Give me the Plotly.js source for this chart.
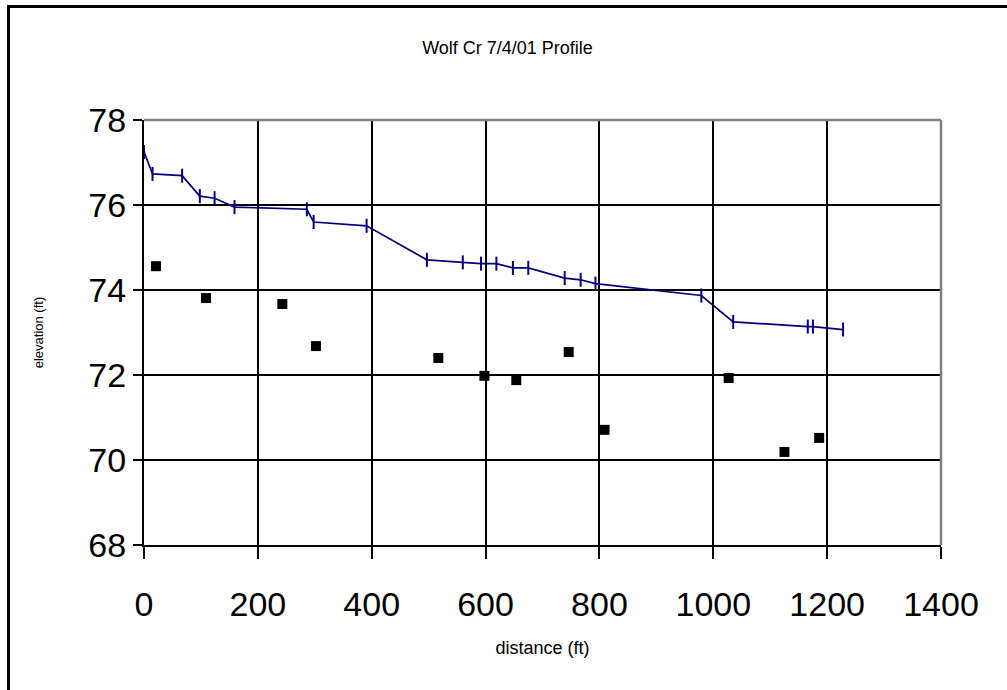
<!DOCTYPE html>
<html>
<head>
<meta charset="utf-8">
<script src="https://cdn.plot.ly/plotly-3.0.1.min.js"></script>
<style>
  html, body { margin: 0; padding: 0; background: #fff; }
  #wrap { position: relative; width: 1007px; height: 690px; overflow: hidden; }
  #chart { position: absolute; left: 0; top: 0; width: 1007px; height: 690px; }
  #frame { position: absolute; left: 7px; top: 5px; width: 1100px; height: 800px;
           border-left: 3px solid #000; border-top: 3px solid #000; pointer-events: none; }
</style>
</head>
<body>
<div id="wrap">
  <div id="chart"></div>
  <div id="frame"></div>
</div>
<script>
// Water surface profile (line with tick markers)
const surfaceDistance = [0, 15, 67, 98, 124, 159, 286, 298, 391, 497, 560, 592, 619, 648, 675, 739, 767, 793, 979, 1035, 1166, 1175, 1228];
const surfaceElevation = [77.25, 76.73, 76.69, 76.21, 76.16, 75.95, 75.90, 75.60, 75.51, 74.71, 74.65, 74.62, 74.62, 74.52, 74.52, 74.28, 74.24, 74.15, 73.87, 73.25, 73.14, 73.14, 73.07];

// Bed points (black squares)
const bedDistance = [21, 109, 243, 302, 517, 598, 654, 746, 809, 1027, 1125, 1186];
const bedElevation = [74.56, 73.81, 73.67, 72.68, 72.40, 71.98, 71.88, 72.54, 70.71, 71.93, 70.19, 70.52];

const xTicks = [0, 200, 400, 600, 800, 1000, 1200, 1400];
const yTicks = [68, 70, 72, 74, 76, 78];

const FONT = "Liberation Sans, Arial, sans-serif";

const traces = [
  {
    x: surfaceDistance, y: surfaceElevation, type: 'scatter', mode: 'lines+markers',
    line: { color: '#000080', width: 1.7 },
    marker: { symbol: 'line-ns', size: 10, line: { color: '#000080', width: 2 } },
    cliponaxis: true, showlegend: false, hoverinfo: 'x+y'
  },
  {
    x: bedDistance, y: bedElevation, type: 'scatter', mode: 'markers',
    marker: { symbol: 'square', size: 10, color: '#000000' },
    showlegend: false, hoverinfo: 'x+y'
  }
];

const layout = {
  width: 1007, height: 690,
  paper_bgcolor: '#ffffff', plot_bgcolor: '#ffffff',
  margin: { l: 144, r: 66, t: 120, b: 145 },
  font: { family: FONT, color: '#000' },
  showlegend: false,
  title: {
    text: 'Wolf Cr 7/4/01 Profile',
    font: { family: FONT, size: 18, color: '#000' },
    xref: 'container', yref: 'container', x: 0.504, y: 1 - 48/690,
    xanchor: 'center', yanchor: 'middle'
  },
  xaxis: {
    range: [0, 1400], tickvals: xTicks, ticktext: xTicks.map(String),
    showgrid: true, gridcolor: '#000', gridwidth: 2,
    showline: true, linecolor: '#000', linewidth: 2,
    ticks: 'outside', ticklen: 12, tickwidth: 2, tickcolor: '#000',
    tickfont: { family: FONT, size: 34, color: '#000' },
    ticklabelstandoff: 16,
    zeroline: false, automargin: false,
    title: { text: 'distance (ft)', font: { family: FONT, size: 18, color: '#000' }, standoff: 20 }
  },
  yaxis: {
    range: [68, 78], tickvals: yTicks, ticktext: yTicks.map(String),
    showgrid: true, gridcolor: '#000', gridwidth: 2,
    showline: true, linecolor: '#000', linewidth: 2,
    ticks: 'outside', ticklen: 9, tickwidth: 2, tickcolor: '#000',
    tickfont: { family: FONT, size: 34, color: '#000' },
    zeroline: false, automargin: false,
    title: { text: 'elevation (ft)', font: { family: FONT, size: 13, color: '#000' }, standoff: 42 }
  },
  shapes: [
    { type: 'line', xref: 'paper', yref: 'paper', x0: 0, x1: 1, y0: 1, y1: 1, line: { color: '#808080', width: 2.5 } },
    { type: 'line', xref: 'paper', yref: 'paper', x0: 1, x1: 1, y0: 0, y1: 1, line: { color: '#808080', width: 2.5 } }
  ]
};

Plotly.newPlot('chart', traces, layout, { staticPlot: true, displayModeBar: false });
</script>
</body>
</html>
